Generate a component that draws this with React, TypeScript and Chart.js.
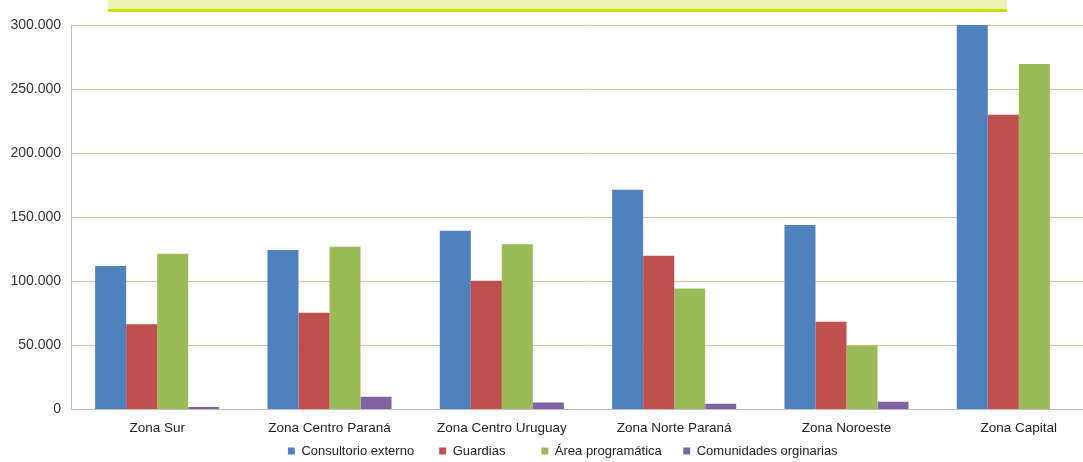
import React, { useEffect, useRef } from "react";
import { Chart, registerables } from "chart.js";

Chart.register(...registerables);

const categories = [
  "Zona Sur",
  "Zona Centro Paraná",
  "Zona Centro Uruguay",
  "Zona Norte Paraná",
  "Zona Noroeste",
  "Zona Capital",
];

const consultorioExterno = [112000, 124500, 139500, 171500, 144000, 300000];
const guardias = [66500, 75500, 100500, 120000, 68500, 230000];
const areaProgramatica = [121500, 127000, 129000, 94500, 50000, 269500];
const comunidadesOrginarias = [2000, 10000, 5500, 4500, 6000, 0];

const seriesLabels = [
  "Consultorio externo",
  "Guardias",
  "Área programática",
  "Comunidades orginarias",
];

const yTicks = [0, 50000, 100000, 150000, 200000, 250000, 300000];

const colors = ["#4F81BD", "#C0504D", "#9BBB59", "#8064A2"];

function fmt(v: number): string {
  return String(Math.round(v)).replace(/\B(?=(\d{3})+(?!\d))/g, ".");
}

export default function App() {
  const ref = useRef<HTMLCanvasElement | null>(null);

  useEffect(() => {
    if (!ref.current) return;
    const values = [consultorioExterno, guardias, areaProgramatica, comunidadesOrginarias];
    const family = "'Liberation Sans', Arial, sans-serif";
    const defaultGen = (Chart as any).defaults.plugins.legend.labels.generateLabels;
    const gaps = ["     ", "        ", "    ", ""];
    const chart = new Chart(ref.current, {
      type: "bar",
      data: {
        labels: categories,
        datasets: values.map((d, i) => ({
          label: seriesLabels[i],
          data: d,
          backgroundColor: colors[i],
          borderWidth: 0,
          barPercentage: 1,
          categoryPercentage: 0.72,
        })),
      },
      options: {
        responsive: false,
        animation: false,
        layout: { padding: { top: 25, left: 0, right: 0, bottom: -5.5 } },
        plugins: {
          tooltip: { enabled: false },
          legend: {
            position: "bottom",
            labels: {
              boxWidth: 7,
              boxHeight: 7,
              padding: 7,
              color: "#222",
              font: { family, size: 13 },
              generateLabels: (c: any) => {
                const items = defaultGen(c).map((it: any, i: number) => ({
                  ...it,
                  text: it.text + gaps[i],
                }));
                const spacer = {
                  text: "",
                  fillStyle: "rgba(0,0,0,0)",
                  strokeStyle: "rgba(0,0,0,0)",
                  lineWidth: 0,
                  hidden: false,
                  datasetIndex: -1,
                };
                return [spacer, ...items];
              },
            },
          },
        },
        scales: {
          x: {
            grid: { display: false, drawTicks: false },
            border: { display: true, color: "#bdbdbd", width: 1 },
            ticks: { color: "#222", font: { family, size: 13.5 }, padding: 11, maxRotation: 0 },
            afterFit: (s: any) => {
              s.height = 28;
            },
          },
          y: {
            min: 0,
            max: 300000,
            afterBuildTicks: (s: any) => {
              s.ticks = yTicks.map((v) => ({ value: v }));
            },
            grid: { color: "#f2bb8e", lineWidth: 1, drawTicks: false },
            border: { display: true, color: "#bdbdbd", width: 1 },
            ticks: {
              color: "#333",
              font: { family, size: 14 },
              padding: 10,
              callback: (v: any) => fmt(Number(v)),
            },
            afterFit: (s: any) => {
              s.width = 71;
            },
          },
        },
      },
    });
    return () => chart.destroy();
  }, []);

  return (
    <div style={{ position: "fixed", left: 0, top: 0, width: 1083, height: 462, background: "#fff", overflow: "hidden" }}>
      <div
        style={{
          position: "absolute",
          left: 108,
          top: 0,
          width: 899,
          height: 9,
          background: "#eef4b2",
          borderBottom: "3px solid #c9dc0c",
        }}
      />
      <canvas ref={ref} width={1105} height={462} style={{ position: "absolute", left: 0, top: 0 }} />
    </div>
  );
}
